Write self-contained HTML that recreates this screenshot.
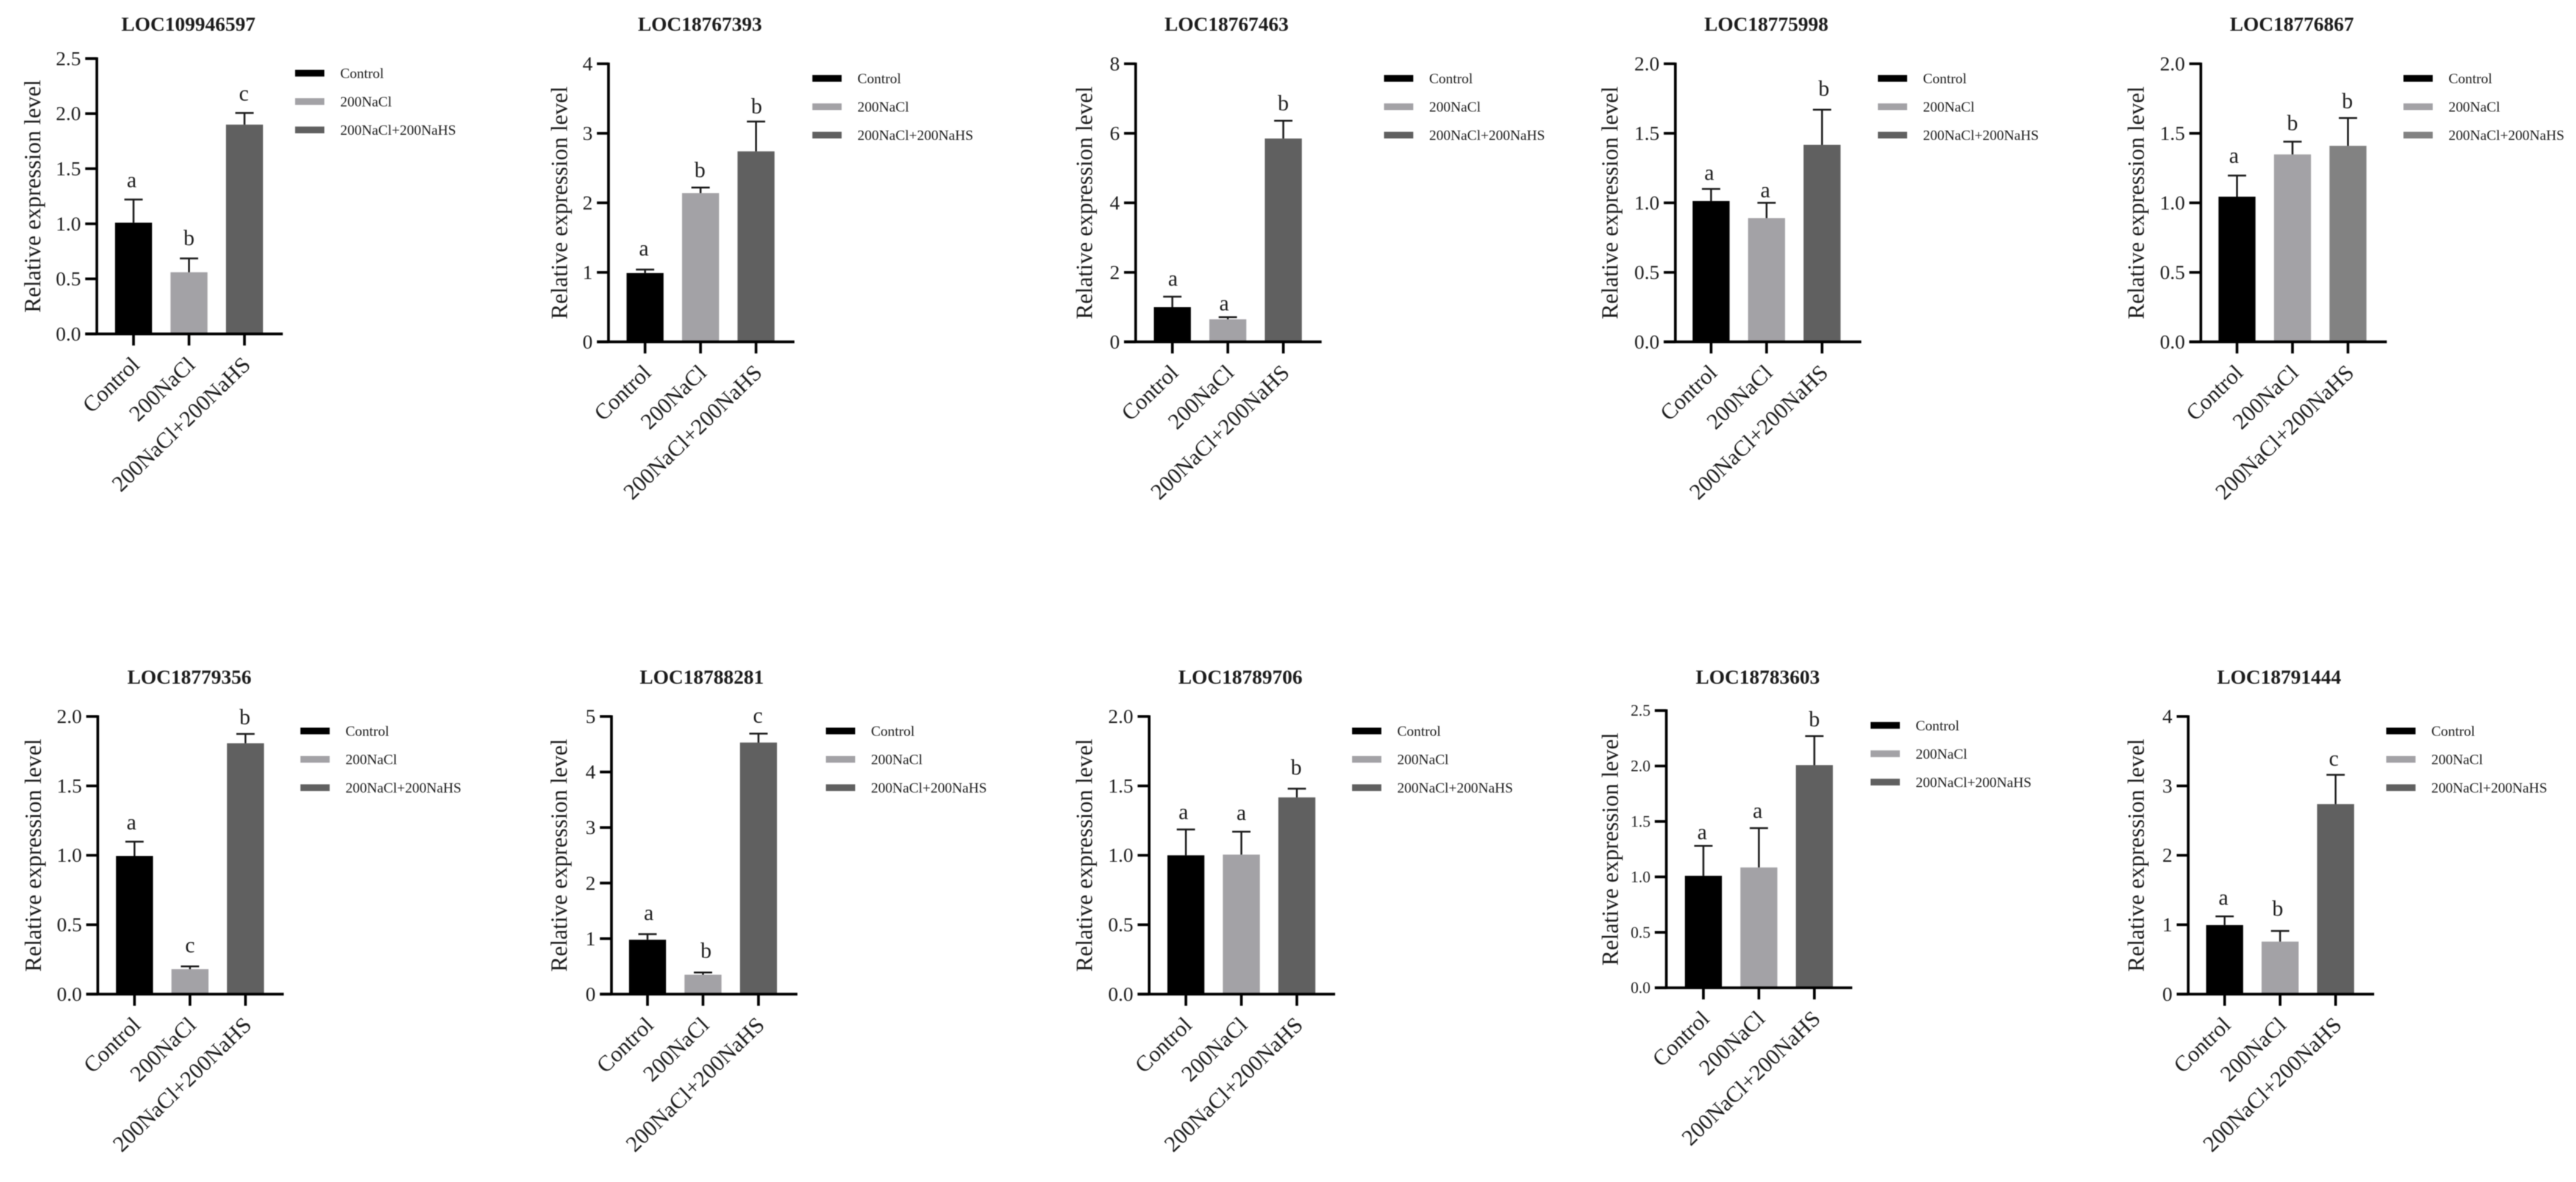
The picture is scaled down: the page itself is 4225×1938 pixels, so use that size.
<!DOCTYPE html>
<html lang="en">
<head>
<meta charset="utf-8">
<title>Relative expression levels</title>
<style>
html,body{margin:0;padding:0;background:#fff;width:4225px;height:1938px;overflow:hidden}
svg{display:block;filter:blur(.9px)}
text{font-family:"Liberation Serif","Times New Roman",serif;fill:#1c1c1c}
</style>
</head>
<body>
<svg id="chart" xmlns="http://www.w3.org/2000/svg" width="4225" height="1938" viewBox="0 0 4225 1938"></svg>
<script>
const geneNames = ['LOC109946597','LOC18767393','LOC18767463','LOC18775998','LOC18776867','LOC18779356','LOC18788281','LOC18789706','LOC18783603','LOC18791444'];
const groupLabels = ['Control','200NaCl','200NaCl+200NaHS'];
const meanValues = [
  [1.01,0.56,1.90],[0.99,2.14,2.74],[1.00,0.65,5.85],[1.013,0.89,1.417],[1.044,1.348,1.41],
  [0.995,0.18,1.807],[0.98,0.35,4.53],[1.00,1.005,1.417],[1.01,1.085,2.008],[0.995,0.757,2.738]
];
const upperWhiskers = [
  [1.22,0.685,2.006],[1.04,2.22,3.17],[1.30,0.71,6.36],[1.10,1.00,1.67],[1.196,1.44,1.61],
  [1.098,0.20,1.874],[1.08,0.39,4.69],[1.186,1.17,1.48],[1.28,1.44,2.27],[1.12,0.91,3.16]
];
const significanceLetters = [
  ['a','b','c'],['a','b','b'],['a','a','b'],['a','a','b'],['a','b','b'],
  ['a','c','b'],['a','b','c'],['a','a','b'],['a','a','b'],['a','b','c']
];
const tickLabels = [
  ['0.0','0.5','1.0','1.5','2.0','2.5'],['0','1','2','3','4'],['0','2','4','6','8'],
  ['0.0','0.5','1.0','1.5','2.0'],['0.0','0.5','1.0','1.5','2.0'],['0.0','0.5','1.0','1.5','2.0'],
  ['0','1','2','3','4','5'],['0.0','0.5','1.0','1.5','2.0'],['0.0','0.5','1.0','1.5','2.0','2.5'],['0','1','2','3','4']
];
const yAxisTitle = 'Relative expression level';

const layouts = [
  {ax:158.8,top:96,base:547.5,tick0:219,legX:484,legY:120,titleX:309,titleY:50.4,ylX:66,tickFont:33,gaps:[20,22,20],shift:[-3,0,-1]},
  {ax:998,top:104.6,base:560.5,tick0:1058,legX:1332.4,legY:128.5,titleX:1148,titleY:50.4,ylX:930,tickFont:33,gaps:[23,17,13],shift:[-2,-1,1]},
  {ax:1862.6,top:104.6,base:560.5,tick0:1922.8,legX:2270,legY:128.5,titleX:2011.7,titleY:50.4,ylX:1791,tickFont:33,gaps:[18,11,17],shift:[1,-6,0]},
  {ax:2747.8,top:104.6,base:560.5,tick0:2806.4,legX:3080,legY:128.5,titleX:2897,titleY:50.4,ylX:2653,tickFont:33,gaps:[15,9,23],shift:[-3,-2,3]},
  {ax:3609.7,top:104.6,base:560.5,tick0:3669,legX:3942,legY:128.5,titleX:3759,titleY:50.4,ylX:3516,tickFont:33,gaps:[21,19,16],shift:[-5,0,-1],third:'#828282'},
  {ax:160.4,top:1174.7,base:1630,tick0:220.6,legX:492.7,legY:1198.5,titleX:310.6,titleY:1121,ylX:67,tickFont:33,gaps:[20,23,16],shift:[-5,0,-1]},
  {ax:1002.9,top:1174.7,base:1630,tick0:1062,legX:1354.6,legY:1198.5,titleX:1151,titleY:1121,ylX:929.7,tickFont:33,gaps:[23,24,18],shift:[2,5,-1]},
  {ax:1884.8,top:1174.7,base:1630,tick0:1945,legX:2217.6,legY:1198.5,titleX:2034.4,titleY:1121,ylX:1791,tickFont:33,gaps:[17,19,23],shift:[-4,0,-1]},
  {ax:2733,top:1165,base:1619.6,tick0:2793.8,legX:3068,legY:1189.3,titleX:2883,titleY:1121,ylX:2653.4,tickFont:26,gaps:[11,17,16],shift:[-2,-2,0]},
  {ax:3589,top:1174.7,base:1630,tick0:3648.7,legX:3913.8,legY:1198.5,titleX:3738,titleY:1121,ylX:3516,tickFont:33,gaps:[19,25,15],shift:[-2,-4,-3]}
];

const NS = 'http://www.w3.org/2000/svg';
const svgRoot = document.getElementById('chart');
function make(tag, attrs, parent, content) {
  const node = document.createElementNS(NS, tag);
  for (const key in attrs) node.setAttribute(key, attrs[key]);
  if (content !== undefined) node.textContent = content;
  parent.appendChild(node);
  return node;
}

const BAR_W = 60.7, STEP = 91, TICK = 19, AXIS_RIGHT = 305, AXIS_W = 4.4, ERR_W = 3, CAP = 15;
const LEG_W = 48, LEG_H = 11, LEG_STEP = 46.5, LEG_TEXT = 74;

geneNames.forEach(function (gene, p) {
  const L = layouts[p];
  const colors = ['#000000', '#a3a2a6', L.third || '#606060'];
  const labels = tickLabels[p];
  const yMax = parseFloat(labels[labels.length - 1]);
  const yScale = function (v) { return L.base - (v / yMax) * (L.base - L.top); };
  const xScale = function (i) { return L.tick0 + i * STEP; };

  const panel = make('g', {}, svgRoot);
  
  

  const title = make('text', {x: L.titleX, y: L.titleY, 'text-anchor': 'middle', 'font-size': 33, 'font-weight': 'bold'}, panel, gene);
  
  

  meanValues[p].forEach(function (mean, i) {
    const cx = xScale(i);
    const bar = make('rect', {x: cx - BAR_W / 2, y: yScale(mean), width: BAR_W, height: L.base - yScale(mean), fill: colors[i]}, panel);
    
    

    const upper = yScale(upperWhiskers[p][i]);
    const stem = make('line', {x1: cx, x2: cx, y1: yScale(mean), y2: upper, stroke: '#1a1a1a', 'stroke-width': ERR_W}, panel);
    
    

    const cap = make('line', {x1: cx - CAP, x2: cx + CAP, y1: upper, y2: upper, stroke: '#1a1a1a', 'stroke-width': ERR_W}, panel);
    
    

    const letter = make('text', {x: cx + L.shift[i], y: upper - L.gaps[i], 'text-anchor': 'middle', 'font-size': 36}, panel, significanceLetters[p][i]);
    
    

    const xTick = make('line', {x1: cx, x2: cx, y1: L.base, y2: L.base + TICK, stroke: '#000', 'stroke-width': AXIS_W}, panel);
    
    

    const ax = cx + 12, ay = L.base + 53;
    const xLabel = make('text', {x: ax, y: ay, 'text-anchor': 'end', 'font-size': 36.8, transform: 'rotate(-44 ' + ax + ' ' + ay + ')'}, panel, groupLabels[i]);
    
    
  });

  const yAxis = make('line', {x1: L.ax, x2: L.ax, y1: L.top - 2, y2: L.base + 2, stroke: '#000', 'stroke-width': AXIS_W}, panel);
  
  

  const xAxis = make('line', {x1: L.ax - TICK, x2: L.ax + AXIS_RIGHT, y1: L.base, y2: L.base, stroke: '#000', 'stroke-width': AXIS_W}, panel);
  
  

  labels.forEach(function (label) {
    const ty = yScale(parseFloat(label));
    const yTick = make('line', {x1: L.ax - TICK, x2: L.ax, y1: ty, y2: ty, stroke: '#000', 'stroke-width': AXIS_W}, panel);
    
    

    const yLabel = make('text', {x: L.ax - 26, y: ty + L.tickFont * 0.33, 'text-anchor': 'end', 'font-size': L.tickFont}, panel, label);
    
    
  });

  const midY = (L.top + L.base) / 2;
  const yTitle = make('text', {x: L.ylX, y: midY, 'text-anchor': 'middle', 'font-size': 38, transform: 'rotate(-90 ' + L.ylX + ' ' + midY + ')'}, panel, yAxisTitle);
  
  

  groupLabels.forEach(function (group, i) {
    const ly = L.legY + i * LEG_STEP;
    const swatch = make('rect', {x: L.legX, y: ly - LEG_H / 2, width: LEG_W, height: LEG_H, fill: colors[i]}, panel);
    
    

    const entry = make('text', {x: L.legX + LEG_TEXT, y: ly + 8, 'font-size': 23.4}, panel, group);
    
    
  });
});
</script>
</body>
</html>
